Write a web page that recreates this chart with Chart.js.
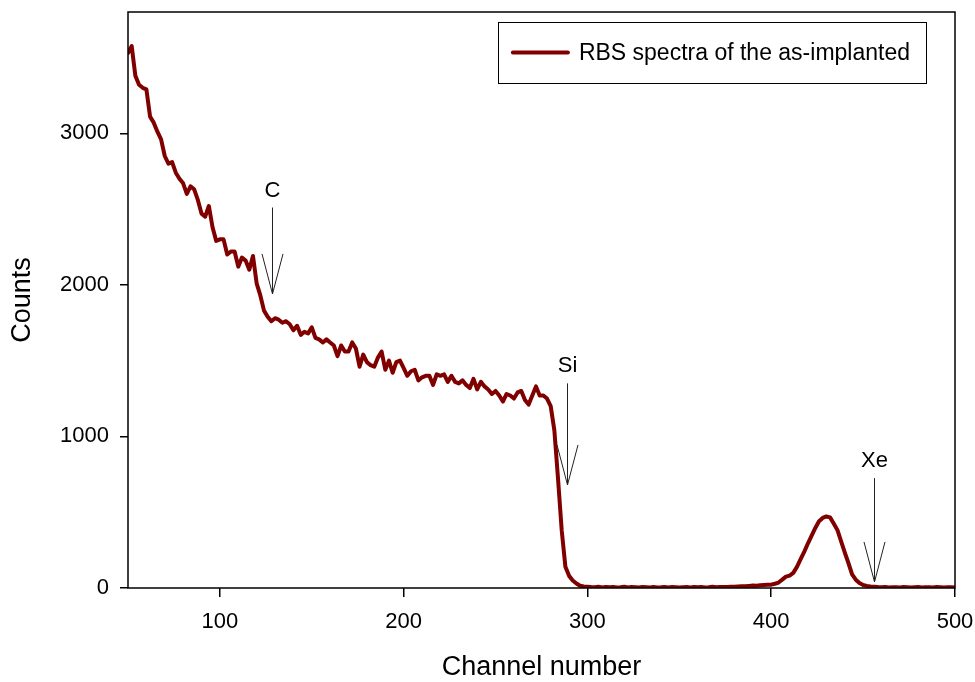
<!DOCTYPE html>
<html>
<head>
<meta charset="utf-8">
<script src="https://cdn.jsdelivr.net/npm/chart.js@4.4.1/dist/chart.umd.min.js"></script>
<style>
  html, body { margin: 0; padding: 0; background: #fff; }
  #wrap { width: 975px; height: 682px; }
</style>
</head>
<body>
<div id="wrap"><canvas id="rbsChart" width="975" height="682"></canvas></div>
<script>
// RBS spectrum, one value every 2 channels from channel 50 to 500
const firstChannel = 50;
const channelStep = 2;
const counts = [
  // 50 - 98
  3530, 3575, 3380, 3320, 3300, 3290, 3110, 3070, 3010, 2960, 2850, 2800, 2810,
  2740, 2700, 2670, 2600, 2650, 2630, 2560, 2470, 2450, 2520, 2380, 2290,
  // 100 - 148
  2300, 2300, 2200, 2220, 2220, 2120, 2180, 2160, 2100, 2190, 2010, 1930, 1830,
  1790, 1760, 1780, 1770, 1750, 1760, 1740, 1700, 1730, 1670, 1690, 1680,
  // 150 - 198
  1720, 1650, 1640, 1620, 1640, 1620, 1600, 1530, 1600, 1560, 1560, 1620, 1580,
  1460, 1540, 1490, 1470, 1460, 1520, 1560, 1440, 1500, 1420, 1490, 1500,
  // 200 - 248
  1450, 1400, 1430, 1440, 1370, 1390, 1400, 1400, 1340, 1410, 1400, 1410, 1360,
  1400, 1360, 1350, 1370, 1340, 1320, 1380, 1310, 1360, 1330, 1310, 1280,
  // 250 - 298
  1300, 1270, 1230, 1280, 1270, 1250, 1290, 1300, 1240, 1210, 1270, 1330, 1270,
  1270, 1250, 1200, 1040, 720, 380, 140, 80, 50, 30, 15, 10,
  // 300 - 348
  8, 6, 5, 8, 4, 7, 5, 6, 4, 5, 8, 3, 6, 5, 4, 7, 5, 3, 6, 4, 5, 7, 4, 6, 5,
  // 350 - 398
  3, 5, 6, 4, 7, 5, 6, 4, 5, 8, 5, 6, 7, 6, 9, 8, 10, 12, 11, 14, 16, 15, 18, 20, 22,
  // 400 - 448
  22, 28, 36, 55, 75, 82, 100, 139, 190, 240, 295, 345, 396, 440, 462, 472, 466,
  425, 383, 310, 235, 165, 90, 55, 33,
  // 450 - 500
  20, 14, 10, 8, 6, 5, 6, 4, 5, 5, 4, 6, 5, 4, 5, 6, 4, 5, 5, 4, 6, 5, 4, 5, 5, 4
];
const channels = counts.map((_, i) => firstChannel + i * channelStep);

const xTicks = [100, 200, 300, 400, 500];
const yTicks = [0, 1000, 2000, 3000];

// element markers: label, channel, arrow top and tip (counts)
const markerLabels = ['C', 'Si', 'Xe'];
const markerChannels = [128.5, 289, 456];
const markerTops = [2510, 1350, 725];
const markerTips = [1940, 680, 40];

const seriesLabel = 'RBS spectra of the as-implanted';
const lineColor = '#800000';
const fontFamily = '"Liberation Sans", Arial, Helvetica, sans-serif';

const framePlugin = {
  id: 'frame',
  afterDatasetsDraw(chart) {
    const ctx = chart.ctx;
    const a = chart.chartArea;
    const xs = chart.scales.x, ys = chart.scales.y;
    ctx.save();
    // element arrows
    ctx.strokeStyle = '#222';
    ctx.lineWidth = 1;
    ctx.fillStyle = '#000';
    ctx.font = '22px ' + fontFamily;
    ctx.textAlign = 'center';
    ctx.textBaseline = 'bottom';
    markerLabels.forEach((lbl, i) => {
      const px = Math.round(xs.getPixelForValue(markerChannels[i])) + 0.5;
      const top = ys.getPixelForValue(markerTops[i]);
      const tip = ys.getPixelForValue(markerTips[i]);
      ctx.beginPath();
      ctx.moveTo(px, top);
      ctx.lineTo(px, tip);
      ctx.moveTo(px - 10.5, tip - 40);
      ctx.lineTo(px, tip);
      ctx.lineTo(px + 10.5, tip - 40);
      ctx.stroke();
      ctx.fillText(lbl, px, top - 6);
    });
    // frame round the plot
    ctx.strokeStyle = '#000';
    ctx.lineWidth = 1.5;
    ctx.strokeRect(a.left, a.top, a.right - a.left, a.bottom - a.top);
    // legend box
    ctx.font = '23px ' + fontFamily;
    const tw = ctx.measureText(seriesLabel).width;
    const boxW = 15 + 55 + 11 + tw + 16;
    const boxH = 61;
    const bx = a.right - 29 - boxW;
    const by = a.top + 10;
    ctx.fillStyle = '#fff';
    ctx.fillRect(bx, by, boxW, boxH);
    ctx.lineWidth = 1;
    ctx.strokeStyle = '#000';
    ctx.strokeRect(Math.round(bx) + 0.5, Math.round(by) + 0.5, Math.round(boxW), boxH);
    ctx.strokeStyle = lineColor;
    ctx.lineWidth = 4;
    ctx.lineCap = 'round';
    ctx.beginPath();
    ctx.moveTo(bx + 15, by + boxH / 2);
    ctx.lineTo(bx + 70, by + boxH / 2);
    ctx.stroke();
    ctx.fillStyle = '#000';
    ctx.textAlign = 'left';
    ctx.textBaseline = 'middle';
    ctx.fillText(seriesLabel, bx + 81, by + boxH / 2 + 1);
    ctx.restore();
  }
};

new Chart(document.getElementById('rbsChart'), {
  type: 'line',
  data: {
    datasets: [{
      label: seriesLabel,
      data: counts.map((c, i) => ({ x: channels[i], y: c })),
      borderColor: lineColor,
      backgroundColor: lineColor,
      borderWidth: 4,
      borderJoinStyle: 'round',
      borderCapStyle: 'round',
      pointRadius: 0,
      tension: 0,
      fill: false
    }]
  },
  options: {
    responsive: false,
    animation: false,
    layout: { padding: { top: 12, right: 20, left: 0, bottom: 0 } },
    plugins: {
      legend: { display: false },
      tooltip: { enabled: false }
    },
    scales: {
      x: {
        type: 'linear',
        min: 50,
        max: 500,
        afterFit(scale) {
          scale.height = 94;
          scale.paddingLeft = 0;
          scale.paddingRight = 0;
        },
        afterBuildTicks(scale) { scale.ticks = xTicks.map(v => ({ value: v })); },
        border: { display: false },
        grid: { drawOnChartArea: false, drawTicks: true, tickLength: 9, color: '#000', lineWidth: 1.5 },
        ticks: {
          color: '#000', padding: 12, maxRotation: 0,
          font: { family: fontFamily, size: 22 },
          callback: v => String(v)
        },
        title: {
          display: true,
          text: 'Channel number',
          color: '#000',
          padding: { top: 0, bottom: 1 },
          font: { family: fontFamily, size: 27, lineHeight: 1 }
        }
      },
      y: {
        min: 0,
        max: 3800,
        afterFit(scale) {
          scale.width = 128;
          scale.paddingTop = 0;
          scale.paddingBottom = 0;
        },
        afterBuildTicks(scale) { scale.ticks = yTicks.map(v => ({ value: v })); },
        border: { display: false },
        grid: { drawOnChartArea: false, drawTicks: true, tickLength: 8, color: '#000', lineWidth: 1.5 },
        ticks: {
          color: '#000', padding: 11,
          font: { family: fontFamily, size: 22 },
          callback: v => String(v)
        },
        title: {
          display: true,
          text: 'Counts',
          color: '#000',
          padding: { top: 9, bottom: 0 },
          font: { family: fontFamily, size: 27, lineHeight: 1 }
        }
      }
    }
  },
  plugins: [framePlugin]
});
</script>
</body>
</html>
